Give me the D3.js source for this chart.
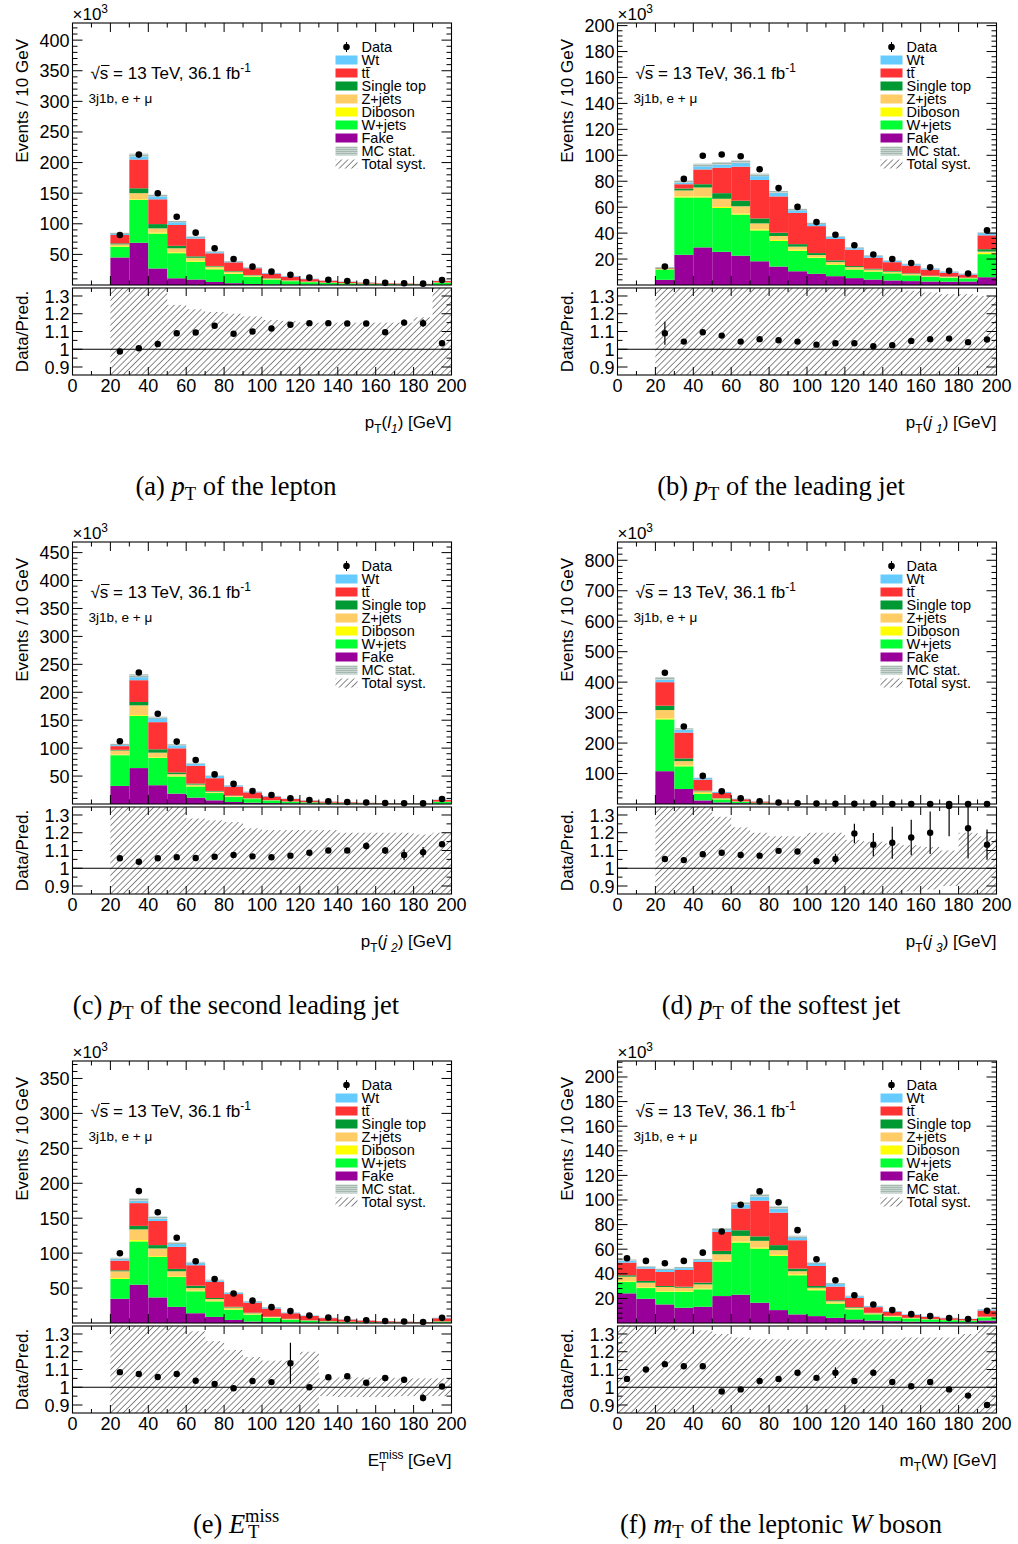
<!DOCTYPE html>
<meta charset="utf-8">
<style>
body { margin: 0; background: #fff; }
* { font-family: "Liberation Sans", Arial, Helvetica, sans-serif; }
.caption, .caption tspan { font-family: "Liberation Serif", "Times New Roman", serif; }
</style>
<body>
<script src="https://d3js.org/d3.v7.min.js"></script>
<script>

// ---- samples (stack order, bottom -> top) ----
var samples = ["Fake", "W+jets", "Diboson", "Z+jets", "Single top", "ttbar", "Wt"];
var sampleColors = ["#990099", "#00ff33", "#ffff00", "#ffcc66", "#009933", "#ff3333", "#66ccff"];

// bin lower edges (10 GeV bins)
var ptBins = [20, 30, 40, 50, 60, 70, 80, 90, 100, 110, 120, 130, 140, 150, 160, 170, 180, 190];
var mtBins = [0, 10, 20, 30, 40, 50, 60, 70, 80, 90, 100, 110, 120, 130, 140, 150, 160, 170, 180, 190];
var xTickLabels = [0, 20, 40, 60, 80, 100, 120, 140, 160, 180, 200];
var ratioTickLabels = [0.9, 1, 1.1, 1.2, 1.3];

// ---- (a) pT lepton, units of 10^3 events; rows follow `samples` ----
var ptLepStack = [
  [45, 69, 27, 11, 9, 5, 3, 1.6, 1, 0.8, 0.6, 0.5, 0.4, 0.3, 0.2, 0.2, 0.15, 0.3],
  [17.6, 70, 57, 41, 29, 20.6, 15, 12, 8, 5.5, 4, 3, 2.3, 1.8, 1.4, 1.1, 0.85, 3.3],
  [1, 1, 1.5, 1.5, 1.5, 1.5, 1, 0.8, 0.5, 0.4, 0.3, 0.2, 0.15, 0.1, 0.1, 0.05, 0.05, 0.2],
  [2.8, 10, 7, 6.5, 5, 3, 2.8, 1.4, 1, 0.6, 0.5, 0.4, 0.3, 0.2, 0.2, 0.1, 0.1, 0.3],
  [1.6, 8, 7, 4, 2.3, 1, 1, 0.6, 0.5, 0.3, 0.2, 0.2, 0.1, 0.1, 0.05, 0.05, 0.05, 0.2],
  [13.7, 47, 40.5, 34, 29, 20.7, 14.2, 11, 7.5, 6, 4, 2.8, 2.0, 1.4, 1.05, 0.85, 0.6, 2.2],
  [2.7, 7, 6, 5.4, 3, 2.3, 1.6, 1, 1.1, 1.1, 0.7, 0.4, 0.35, 0.3, 0.2, 0.15, 0.1, 0.5]
];
var ptLepData = [81.7, 213, 150, 111.6, 85.5, 60, 42.5, 30, 21.8, 16.7, 12, 8.6, 6.4, 4.8, 3.5, 2.9, 2.2, 8];
var ptLepRatio = [0.987, 1.006, 1.03, 1.09, 1.094, 1.132, 1.087, 1.10, 1.117, 1.138, 1.147, 1.147, 1.145, 1.145, 1.096, 1.15, 1.147, 1.034];
var ptLepRatioErr = [0, 0, 0, 0, 0, 0, 0, 0, 0, 0, 0, 0, 0, 0, 0.012, 0.018, 0.022, 0];
var ptLepSyst = [0.5, 0.5, 0.5, 0.25, 0.225, 0.21, 0.2, 0.185, 0.165, 0.16, 0.15, 0.15, 0.15, 0.15, 0.15, 0.15, 0.18, 0.5];

// ---- (b) pT leading jet ----
var ptJ1Stack = [
  [4, 23.3, 29, 25.6, 22.6, 18.3, 14.2, 10.6, 8.6, 6.8, 5.3, 4.2, 3.5, 3, 2.7, 2.5, 2.7, 6],
  [8, 44.2, 38.5, 33.8, 31.7, 23.8, 19.8, 15.8, 12.2, 8.9, 6.7, 6.1, 5.5, 4.5, 3.5, 3.2, 2.4, 17.8],
  [0.2, 0.8, 0.8, 0.8, 0.8, 0.8, 0.8, 0.8, 0.6, 0.5, 0.4, 0.3, 0.3, 0.3, 0.2, 0.2, 0.1, 1.2],
  [0.4, 4.6, 6.9, 6.3, 5.6, 4.6, 3, 2.4, 1.7, 1.6, 1.4, 1.3, 1.0, 0.8, 0.5, 0.4, 0.3, 0.8],
  [0.2, 1.5, 2.5, 4.3, 4.3, 3.8, 2.5, 1.9, 1.5, 1.2, 0.8, 0.6, 0.5, 0.4, 0.3, 0.2, 0.1, 1.8],
  [0.5, 3.3, 11.4, 19.6, 26.2, 29.7, 28, 24.1, 20.8, 16.5, 12.6, 8.6, 6.8, 6, 4.7, 3.0, 2.4, 10.7],
  [0.4, 2.0, 3.3, 3.3, 3.8, 3.8, 3.3, 2.5, 2.1, 1.8, 1.4, 1.4, 1.2, 1.2, 1.0, 0.8, 0.6, 2.0]
];
var ptJ1Data = [14.2, 81.8, 99.6, 100.6, 99.3, 89.2, 74.7, 60.2, 48.5, 38.8, 30.7, 23.5, 20, 17, 13.6, 10.9, 8.9, 42.1];
var ptJ1Ratio = [1.09, 1.043, 1.096, 1.077, 1.043, 1.057, 1.051, 1.043, 1.026, 1.034, 1.034, 1.017, 1.023, 1.047, 1.057, 1.06, 1.04, 1.055];
var ptJ1RatioErr = [0.065, 0, 0, 0, 0, 0, 0, 0, 0, 0, 0, 0, 0, 0, 0, 0, 0, 0];
var ptJ1Syst = [0.5, 0.5, 0.5, 0.5, 0.45, 0.45, 0.42, 0.4, 0.38, 0.37, 0.36, 0.36, 0.34, 0.33, 0.32, 0.31, 0.31, 0.3];

// ---- (c) pT second leading jet ----
var ptJ2Stack = [
  [32.4, 64.3, 33.6, 18.6, 11.4, 6.6, 3.6, 2.4, 1.5, 1, 0.7, 0.5, 0.35, 0.25, 0.2, 0.15, 0.1, 0.4],
  [55, 93.3, 48.7, 30.7, 20, 13, 9, 6.4, 4.5, 3, 2.1, 1.5, 1.1, 0.8, 0.6, 0.45, 0.35, 3.3],
  [0.9, 1.5, 1.2, 1.2, 1.0, 0.8, 0.6, 0.4, 0.3, 0.2, 0.1, 0.1, 0.05, 0.05, 0.03, 0.02, 0.02, 0.15],
  [7.5, 17.5, 8.4, 3.0, 2.4, 1.8, 1.2, 0.6, 0.4, 0.3, 0.2, 0.15, 0.1, 0.1, 0.07, 0.05, 0.04, 0.2],
  [1.2, 6, 6, 3, 1.8, 1.2, 0.6, 0.6, 0.4, 0.3, 0.2, 0.15, 0.1, 0.05, 0.05, 0.03, 0.03, 0.2],
  [6.6, 39, 48.6, 43.2, 31.9, 22.8, 16.2, 10.4, 6.3, 4.2, 2.8, 1.8, 1.3, 0.9, 0.65, 0.5, 0.38, 3.0],
  [3.0, 7.8, 7.9, 6, 4.2, 4.3, 2.4, 1.4, 1.0, 0.6, 0.4, 0.3, 0.2, 0.15, 0.1, 0.1, 0.08, 0.55]
];
var ptJ2Data = [112.3, 235.4, 161.6, 111.7, 78.7, 53, 36, 23.4, 16.2, 10.3, 7.1, 5.0, 3.5, 2.6, 1.9, 1.4, 1.1, 8.9];
var ptJ2Ratio = [1.056, 1.037, 1.056, 1.062, 1.058, 1.065, 1.075, 1.067, 1.062, 1.071, 1.087, 1.10, 1.10, 1.125, 1.10, 1.075, 1.09, 1.135];
var ptJ2RatioErr = [0, 0, 0, 0, 0, 0, 0, 0, 0, 0, 0, 0, 0, 0.02, 0.02, 0.03, 0.03, 0.01];
var ptJ2Syst = [0.5, 0.5, 0.5, 0.5, 0.28, 0.27, 0.26, 0.225, 0.215, 0.215, 0.215, 0.215, 0.2, 0.2, 0.2, 0.2, 0.19, 0.2];

// ---- (d) pT softest jet ----
var ptJ3Stack = [
  [107.7, 49.3, 11.8, 5.2, 2.5, 1.2, 0.6, 0.35, 0.2, 0.1, 0.06, 0.04, 0.025, 0.015, 0.01, 0.007, 0.005, 0.008],
  [170, 74.4, 22, 10, 4.5, 2.2, 1.2, 0.65, 0.35, 0.2, 0.12, 0.075, 0.045, 0.03, 0.02, 0.012, 0.008, 0.012],
  [3.3, 2.8, 2.2, 1.0, 0.4, 0.2, 0.1, 0.05, 0.03, 0.02, 0.01, 0.005, 0.003, 0.002, 0.001, 0.001, 0.001, 0.001],
  [27.4, 14.3, 5.6, 2.3, 1.0, 0.5, 0.25, 0.13, 0.07, 0.04, 0.02, 0.015, 0.01, 0.006, 0.004, 0.002, 0.002, 0.003],
  [14.3, 8.8, 2.2, 1.0, 0.5, 0.3, 0.15, 0.08, 0.05, 0.03, 0.02, 0.01, 0.007, 0.004, 0.003, 0.002, 0.001, 0.002],
  [77.2, 84.9, 36.3, 16.5, 6.9, 3.4, 1.75, 1.0, 0.55, 0.31, 0.2, 0.12, 0.07, 0.045, 0.03, 0.018, 0.012, 0.02],
  [12.1, 11, 5.6, 3.4, 1.5, 0.7, 0.35, 0.14, 0.05, 0.05, 0.02, 0.015, 0.01, 0.005, 0.002, 0.003, 0.001, 0.004]
];
var ptJ3Data = [430.8, 254.4, 92.3, 41.6, 18.6, 9.1, 4.8, 2.6, 1.35, 0.8, 0.54, 0.32, 0.2, 0.13, 0.085, 0.06, 0.037, 0.057];
var ptJ3Ratio = [1.052, 1.046, 1.079, 1.087, 1.075, 1.071, 1.098, 1.094, 1.04, 1.052, 1.196, 1.133, 1.144, 1.173, 1.2, 1.35, 1.225, 1.133];
var ptJ3RatioErr = [0, 0, 0, 0, 0, 0, 0, 0.012, 0.015, 0.03, 0.055, 0.065, 0.09, 0.1, 0.12, 0.17, 0.17, 0.085];
var ptJ3Syst = [0.5, 0.5, 0.5, 0.29, 0.23, 0.2, 0.18, 0.18, 0.2, 0.2, 0.16, 0.15, 0.14, 0.13, 0.12, 0.1, 0.2, 0.18];

// ---- (e) missing ET ----
var metStack = [
  [34.7, 54.8, 36.6, 23.1, 14, 8.7, 4.4, 2, 1.2, 0.8, 0.5, 0.35, 0.25, 0.18, 0.13, 0.1, 0.07, 0.3],
  [28.5, 62, 57.9, 42.7, 31.4, 22.3, 14.6, 10, 6.1, 4, 2.6, 1.8, 1.3, 0.95, 0.7, 0.5, 0.38, 1.6],
  [1.2, 1.9, 1.1, 1.0, 0.8, 0.8, 0.8, 0.6, 0.5, 0.3, 0.2, 0.15, 0.1, 0.07, 0.05, 0.04, 0.03, 0.1],
  [9.6, 15.3, 11.1, 7.2, 3.8, 2.5, 2.4, 1.4, 0.8, 0.5, 0.3, 0.2, 0.15, 0.1, 0.08, 0.06, 0.04, 0.2],
  [1.4, 5, 4.8, 3.4, 3.4, 1.5, 1.0, 0.8, 0.5, 0.4, 0.3, 0.2, 0.15, 0.1, 0.08, 0.06, 0.04, 0.2],
  [13.9, 32.6, 34.5, 31.6, 29.3, 23, 18.2, 14.4, 11.6, 8.0, 6.1, 4.3, 3.0, 2.15, 1.5, 1.1, 0.84, 4.4],
  [2.9, 4.8, 4.8, 5.3, 3.8, 2.4, 2.4, 1.6, 1.5, 1.0, 0.7, 0.5, 0.35, 0.25, 0.16, 0.14, 0.1, 0.6]
];
var metData = [99.9, 188.8, 158.5, 122, 88.4, 63, 42.3, 32, 22.7, 17, 10.7, 7.9, 5.6, 3.9, 2.85, 2.1, 1.4, 7.4];
var metRatio = [1.085, 1.075, 1.058, 1.075, 1.037, 1.019, 0.994, 1.035, 1.029, 1.135, 1.0, 1.056, 1.062, 1.025, 1.052, 1.042, 0.94, 1.004];
var metRatioErr = [0, 0, 0, 0, 0, 0, 0, 0, 0, 0.115, 0, 0, 0.012, 0, 0.015, 0.015, 0.02, 0];
var metSyst = [0.5, 0.5, 0.5, 0.5, 0.315, 0.26, 0.21, 0.17, 0.15, 0.15, 0.2, 0.05, 0.055, 0.055, 0.055, 0.05, 0.05, 0.05];

// ---- (f) mT(W) ----
var mtwStack = [
  [24.1, 19.7, 15.1, 12.4, 13.2, 21.9, 23, 16.5, 10.5, 7, 5.6, 4.2, 2.9, 2, 1.5, 1.1, 0.9, 0.7, 0.6, 2],
  [9.2, 8.7, 10.3, 13, 14.2, 28, 42.4, 44, 44.1, 31.8, 21, 11.6, 8.2, 5.1, 3.6, 2.6, 2.0, 1.6, 1.3, 2.6],
  [0.6, 0.6, 0.5, 0.5, 0.6, 0.8, 0.8, 0.8, 0.8, 0.8, 0.8, 0.7, 0.5, 0.4, 0.3, 0.2, 0.15, 0.1, 0.1, 0.2],
  [3.8, 3.8, 3.4, 2.8, 3.4, 5.2, 4.6, 5.5, 3.8, 2.5, 1.3, 1.2, 0.8, 0.5, 0.3, 0.2, 0.15, 0.1, 0.1, 0.2],
  [1.1, 1.4, 0.8, 0.8, 1.4, 2.7, 4.6, 3.6, 4.1, 2.1, 1.4, 0.8, 0.5, 0.3, 0.2, 0.1, 0.1, 0.1, 0.05, 0.2],
  [10.3, 10, 11.4, 13.6, 16.8, 15.5, 17.7, 29.1, 26.4, 23.1, 16.3, 11.1, 7.5, 4.6, 3.2, 2.3, 1.7, 1.3, 1.1, 4.9],
  [1.9, 1.6, 2.2, 1.9, 1.9, 2.2, 4.1, 4, 4.1, 2.8, 2.4, 2.4, 1.5, 0.9, 0.6, 0.5, 0.4, 0.3, 0.25, 0.9]
];
var mtwData = [52.6, 50.5, 48.6, 50.5, 57.2, 74.4, 96.1, 107, 98.2, 75.5, 51.8, 34.7, 22.5, 15.1, 10.5, 7.2, 5.6, 4.1, 3.3, 10];
var mtwRatio = [1.047, 1.1, 1.13, 1.118, 1.118, 0.976, 0.988, 1.035, 1.047, 1.082, 1.053, 1.082, 1.035, 1.082, 1.03, 1.006, 1.03, 0.988, 0.953, 0.9];
var mtwRatioErr = [0, 0, 0, 0, 0, 0, 0, 0, 0, 0, 0, 0.03, 0, 0, 0, 0, 0, 0.01, 0.012, 0.015];
var mtwSyst = [0.35, 0.35, 0.35, 0.33, 0.32, 0.3, 0.28, 0.27, 0.27, 0.27, 0.27, 0.27, 0.27, 0.27, 0.27, 0.28, 0.28, 0.28, 0.3, 0.45];

// ---- layout ----
var colX = [72.5, 617.5],
    rowY = [23, 542, 1061],
    frameW = 379,
    mainH = 262,
    ratioGap = 3,
    ratioH = 87;

var svg = d3.select("body").append("svg")
    .attr("width", 1018)
    .attr("height", 1544);

var defs = svg.append("defs");
var hatch = defs.append("pattern")
    .attr("id", "hatch")
    .attr("patternUnits", "userSpaceOnUse")
    .attr("width", 4.4).attr("height", 4.4)
    .attr("patternTransform", "rotate(45)");
hatch.append("line")
    .attr("x1", 0).attr("y1", 0).attr("x2", 0).attr("y2", 4.4)
    .attr("stroke", "#3c3c3c").attr("stroke-width", 1.2);
var mcs = defs.append("pattern")
    .attr("id", "mcstat")
    .attr("patternUnits", "userSpaceOnUse")
    .attr("width", 2).attr("height", 2);
mcs.append("rect").attr("width", 2).attr("height", 2).attr("fill", "#c9d6d1");
mcs.append("rect").attr("width", 1).attr("height", 1).attr("fill", "#7f998f");

// text with sub/superscripts: segments [text, kind, dx]
function richText(sel, segs, size, subShift) {
  var cur = 0;
  subShift = subShift || 0.3;
  segs.forEach(function(s) {
    var kind = s[1], target = 0, fs = size;
    if (kind.indexOf("sub") >= 0) { target = size * subShift; fs = size * 0.7; }
    if (kind.indexOf("sup") >= 0) { target = -size * 0.42; fs = size * 0.7; }
    var ts = sel.append("tspan").attr("dy", target - cur).attr("font-size", fs).text(s[0]);
    cur = target;
    if (kind.indexOf("it") >= 0) ts.attr("font-style", "italic");
    if (s[2]) ts.attr("dx", s[2]);
  });
}

function drawTicks(g, xs, ys, w, h, xMaj, xMin, yMaj, yMin, lx, ly) {
  var p = d3.path();
  function xt(v, len) { var px = xs(v); p.moveTo(px, h); p.lineTo(px, h - len); p.moveTo(px, 0); p.lineTo(px, len); }
  function yt(v, len) { var py = ys(v); p.moveTo(0, py); p.lineTo(len, py); p.moveTo(w, py); p.lineTo(w - len, py); }
  xMaj.forEach(function(v) { xt(v, lx); });
  xMin.forEach(function(v) { xt(v, lx / 2); });
  yMaj.forEach(function(v) { yt(v, ly); });
  yMin.forEach(function(v) { yt(v, ly / 2); });
  g.append("path").attr("d", p.toString()).attr("fill", "none").attr("stroke", "#000").attr("stroke-width", 1);
  g.append("rect").attr("width", w).attr("height", h)
      .attr("fill", "none").attr("stroke", "#000").attr("stroke-width", 1.1);
}

var legendItems = [
  {label: "Data", kind: "data"},
  {label: "Wt", fill: sampleColors[6]},
  {label: "tt", fill: sampleColors[5], bar: true},
  {label: "Single top", fill: sampleColors[4]},
  {label: "Z+jets", fill: sampleColors[3]},
  {label: "Diboson", fill: sampleColors[2]},
  {label: "W+jets", fill: sampleColors[1]},
  {label: "Fake", fill: sampleColors[0]},
  {label: "MC stat.", fill: "url(#mcstat)"},
  {label: "Total syst.", fill: "url(#hatch)"}
];

function drawPanel(p) {
  var x0 = colX[p.col], y0 = rowY[p.row];
  var x = d3.scaleLinear().domain([0, 200]).range([0, frameW]);
  var y = d3.scaleLinear().domain([0, p.yMax]).range([mainH, 0]);

  var g = svg.append("g").attr("transform", "translate(" + x0 + "," + y0 + ")");

  // stacked histogram
  var rows = p.bins.map(function(lo, i) {
    var r = {lo: lo};
    samples.forEach(function(s, k) { r[s] = p.stack[k][i]; });
    return r;
  });
  var series = d3.stack().keys(samples)(rows);
  series.forEach(function(ser, k) {
    g.append("g").selectAll("rect").data(ser).join("rect")
        .attr("x", function(d) { return x(d.data.lo); })
        .attr("width", function(d) { return x(d.data.lo + 10) - x(d.data.lo); })
        .attr("y", function(d) { return y(d[1]); })
        .attr("height", function(d) { return Math.max(0, y(d[0]) - y(d[1])); })
        .attr("fill", sampleColors[k]);
  });
  var totals = series[series.length - 1].map(function(d) { return d[1]; });
  // MC stat band on top of stack
  g.append("g").selectAll("rect").data(totals).join("rect")
      .attr("x", function(d, i) { return x(p.bins[i]); })
      .attr("width", x(10) - x(0))
      .attr("y", function(d) { return y(d * 1.012); })
      .attr("height", function(d) { return Math.max(0, y(d * 0.988) - y(d * 1.012)); })
      .attr("fill", "url(#mcstat)");

  // data points
  g.append("g").selectAll("circle").data(p.data).join("circle")
      .attr("cx", function(d, i) { return x(p.bins[i] + 5); })
      .attr("cy", function(d) { return y(d); })
      .attr("r", 3.3)
      .attr("fill", "#000");

  drawTicks(g, x, y, frameW, mainH,
      d3.range(0, 201, 20), d3.range(10, 200, 20),
      d3.range(p.yMajor, p.yMax, p.yMajor),
      d3.range(0, p.yMax, p.yMinor).filter(function(v) { return v % p.yMajor !== 0; }),
      9, 10);

  // y tick labels
  g.append("g").selectAll("text").data(d3.range(p.yMajor, p.yMax, p.yMajor)).join("text")
      .attr("x", -3).attr("y", function(d) { return y(d) + 6.5; })
      .attr("text-anchor", "end").attr("font-size", 18)
      .text(function(d) { return d; });

  // x10^3
  richText(g.append("text").attr("x", 0).attr("y", -3), [["\u00d710", "n"], ["3", "sup"]], 17);

  // y title
  g.append("text")
      .attr("transform", "translate(-45," + 16 + ")rotate(-90)")
      .attr("text-anchor", "end").attr("font-size", 17)
      .text("Events / 10 GeV");

  // labels in the frame
  var lum = g.append("text").attr("x", 18).attr("y", 56);
  richText(lum, [["\u221as = 13 TeV, 36.1 fb", "n"], ["-1", "sup"]], 17);
  g.append("line").attr("x1", 28.5).attr("x2", 37).attr("y1", 42.5).attr("y2", 42.5)
      .attr("stroke", "#000").attr("stroke-width", 1);
  g.append("text").attr("x", 16).attr("y", 80).attr("font-size", 13.5).text("3j1b, e + \u03bc");

  // legend
  var lg = g.append("g").attr("transform", "translate(263,24)");
  legendItems.forEach(function(it, i) {
    var ly = i * 13;
    if (it.kind === "data") {
      lg.append("line").attr("x1", 11).attr("x2", 11).attr("y1", ly - 5).attr("y2", ly + 5)
          .attr("stroke", "#000").attr("stroke-width", 1);
      lg.append("circle").attr("cx", 11).attr("cy", ly).attr("r", 3.3).attr("fill", "#000");
    } else {
      lg.append("rect").attr("x", 0).attr("y", ly - 4.5).attr("width", 22).attr("height", 9)
          .attr("fill", it.fill);
    }
    lg.append("text").attr("x", 26).attr("y", ly + 5).attr("font-size", 14.5).text(it.label);
    if (it.bar) {
      lg.append("line").attr("x1", 30.5).attr("x2", 35).attr("y1", ly - 5.5).attr("y2", ly - 5.5)
          .attr("stroke", "#000").attr("stroke-width", 0.9);
    }
  });

  // ratio panel
  var ry0 = mainH + ratioGap;
  var yr = d3.scaleLinear().domain([0.855, 1.345]).range([ratioH, 0]);
  var rg = g.append("g").attr("transform", "translate(0," + ry0 + ")");
  var clipId = "clip-" + p.id;
  defs.append("clipPath").attr("id", clipId)
      .append("rect").attr("width", frameW).attr("height", ratioH);
  var band = rg.append("g").attr("clip-path", "url(#" + clipId + ")");
  band.selectAll("rect").data(p.syst).join("rect")
      .attr("x", function(d, i) { return x(p.bins[i]); })
      .attr("width", x(10) - x(0))
      .attr("y", function(d) { return yr(1 + d); })
      .attr("height", function(d) { return yr(1 - d) - yr(1 + d); })
      .attr("fill", "url(#hatch)");
  rg.append("line").attr("x1", 0).attr("x2", frameW).attr("y1", yr(1)).attr("y2", yr(1))
      .attr("stroke", "#000").attr("stroke-width", 1);
  rg.append("g").attr("clip-path", "url(#" + clipId + ")")
    .selectAll("line").data(p.ratioErr).join("line")
      .attr("x1", function(d, i) { return x(p.bins[i] + 5); })
      .attr("x2", function(d, i) { return x(p.bins[i] + 5); })
      .attr("y1", function(d, i) { return yr(p.ratio[i] - d); })
      .attr("y2", function(d, i) { return yr(p.ratio[i] + d); })
      .attr("stroke", "#000").attr("stroke-width", 1.2);
  rg.append("g").selectAll("circle").data(p.ratio).join("circle")
      .attr("cx", function(d, i) { return x(p.bins[i] + 5); })
      .attr("cy", function(d) { return yr(d); })
      .attr("r", 3.2)
      .attr("fill", "#000");

  drawTicks(rg, x, yr, frameW, ratioH,
      d3.range(0, 201, 20), d3.range(10, 200, 20),
      ratioTickLabels, [0.95, 1.05, 1.15, 1.25],
      8, 10);

  rg.append("g").selectAll("text").data(ratioTickLabels).join("text")
      .attr("x", -3).attr("y", function(d) { return yr(d) + 6.5; })
      .attr("text-anchor", "end").attr("font-size", 18)
      .text(function(d) { return d === 1 ? "1" : d3.format(".1f")(d); });
  rg.append("g").selectAll("text").data(xTickLabels).join("text")
      .attr("x", function(d) { return x(d); }).attr("y", ratioH + 17)
      .attr("text-anchor", "middle").attr("font-size", 18)
      .text(function(d) { return d; });
  rg.append("text")
      .attr("transform", "translate(-45," + (ratioH / 2) + ")rotate(-90)")
      .attr("text-anchor", "middle").attr("font-size", 17)
      .text("Data/Pred.");

  // x title
  richText(rg.append("text").attr("x", frameW).attr("y", ratioH + 53)
      .attr("text-anchor", "end"), p.xTitle, 17);

  // caption
  richText(rg.append("text").attr("class", "caption")
      .attr("x", frameW / 2 - 26).attr("y", ratioH + 120)
      .attr("text-anchor", "middle"), p.caption, 26.5, 0.2);
}

var panels = [
  {id: "a", col: 0, row: 0, bins: ptBins, stack: ptLepStack, data: ptLepData, ratio: ptLepRatio,
   ratioErr: ptLepRatioErr, syst: ptLepSyst, yMax: 428, yMajor: 50, yMinor: 10,
   xTitle: [["p", "n"], ["T", "sub"], ["(", "n"], ["l", "it"], ["1", "itsub"], [") [GeV]", "n"]],
   caption: [["(a) ", "n"], ["p", "it"], ["T", "sub"], [" of the lepton", "n"]]},
  {id: "b", col: 1, row: 0, bins: ptBins, stack: ptJ1Stack, data: ptJ1Data, ratio: ptJ1Ratio,
   ratioErr: ptJ1RatioErr, syst: ptJ1Syst, yMax: 202, yMajor: 20, yMinor: 4,
   xTitle: [["p", "n"], ["T", "sub"], ["(", "n"], ["j", "it"], ["1", "itsub", 4], [") [GeV]", "n"]],
   caption: [["(b) ", "n"], ["p", "it"], ["T", "sub"], [" of the leading jet", "n"]]},
  {id: "c", col: 0, row: 1, bins: ptBins, stack: ptJ2Stack, data: ptJ2Data, ratio: ptJ2Ratio,
   ratioErr: ptJ2RatioErr, syst: ptJ2Syst, yMax: 469, yMajor: 50, yMinor: 10,
   xTitle: [["p", "n"], ["T", "sub"], ["(", "n"], ["j", "it"], ["2", "itsub", 4], [") [GeV]", "n"]],
   caption: [["(c) ", "n"], ["p", "it"], ["T", "sub"], [" of the second leading jet", "n"]]},
  {id: "d", col: 1, row: 1, bins: ptBins, stack: ptJ3Stack, data: ptJ3Data, ratio: ptJ3Ratio,
   ratioErr: ptJ3RatioErr, syst: ptJ3Syst, yMax: 860, yMajor: 100, yMinor: 20,
   xTitle: [["p", "n"], ["T", "sub"], ["(", "n"], ["j", "it"], ["3", "itsub", 4], [") [GeV]", "n"]],
   caption: [["(d) ", "n"], ["p", "it"], ["T", "sub"], [" of the softest jet", "n"]]},
  {id: "e", col: 0, row: 2, bins: ptBins, stack: metStack, data: metData, ratio: metRatio,
   ratioErr: metRatioErr, syst: metSyst, yMax: 375, yMajor: 50, yMinor: 10,
   xTitle: [["E", "n"], ["miss", "sup"], ["T", "sub", -24.5], [" [GeV]", "n", 17]],
   caption: [["(e) ", "n"], ["E", "it"], ["miss", "sup"], ["T", "sub", -31], ["", "n", 20]]},
  {id: "f", col: 1, row: 2, bins: mtBins, stack: mtwStack, data: mtwData, ratio: mtwRatio,
   ratioErr: mtwRatioErr, syst: mtwSyst, yMax: 213, yMajor: 20, yMinor: 4,
   xTitle: [["m", "n"], ["T", "sub"], ["(W) [GeV]", "n"]],
   caption: [["(f) ", "n"], ["m", "it"], ["T", "sub"], [" of the leptonic ", "n"], ["W", "it"], [" boson", "n"]]}
];

panels.forEach(drawPanel);
</script>
</body>
</html>
